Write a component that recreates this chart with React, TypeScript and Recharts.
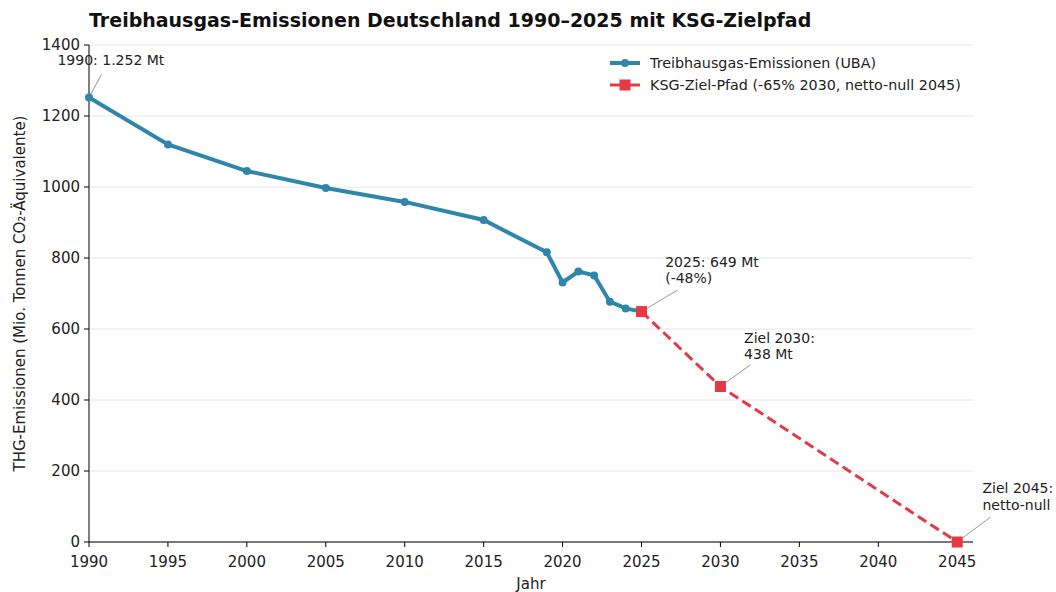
import { CartesianGrid, Legend, Line, LineChart, ReferenceDot, ReferenceLine, XAxis, YAxis } from "recharts"

// UBA Treibhausgas-Emissionen (Mio. t CO2-Äq.)
const years = [1990, 1995, 2000, 2005, 2010, 2015, 2019, 2020, 2021, 2022, 2023, 2024, 2025]
const emissions = [1252, 1120, 1045, 997, 958, 907, 816, 731, 762, 751, 677, 658, 649]

// KSG-Zielpfad
const targetYears = [2025, 2030, 2045]
const targetValues = [649, 438, 0]

const xTicks = [1990, 1995, 2000, 2005, 2010, 2015, 2020, 2025, 2030, 2035, 2040, 2045]
const yTicks = [0, 200, 400, 600, 800, 1000, 1200, 1400]

const annotations = [
  { x: 1990, y: 1252, lx: 1990.8, ly: 1318, tx: 1988, ty: 1343, lines: ["1990: 1.252 Mt"] },
  { x: 2025, y: 649, lx: 2027.3, ly: 710, tx: 2026.5, ty: 775, lines: ["2025: 649 Mt", "(-48%)"] },
  { x: 2030, y: 438, lx: 2031.9, ly: 499, tx: 2031.5, ty: 561, lines: ["Ziel 2030:", "438 Mt"] },
  { x: 2045, y: 0, lx: 2047.1, ly: 70, tx: 2046.6, ty: 138, lines: ["Ziel 2045:", "netto-null"] },
]

const emissionData = years.map((year, i) => ({ year, value: emissions[i] }))
const targetData = targetYears.map((year, i) => ({ year, value: targetValues[i] }))

const BLUE = "#2e86ab"
const RED = "#e63946"
const FONT = "'DejaVu Sans', sans-serif"

const SquareDot = (props: any) => {
  const { cx, cy, index } = props
  return <rect key={`sq-${index}`} x={cx - 5.5} y={cy - 5.5} width={11} height={11} fill={RED} />
}

const LegendContent = () => (
  <div style={{ fontFamily: FONT, fontSize: 14.3, color: "#222", lineHeight: "22px" }}>
    <div style={{ display: "flex", alignItems: "center" }}>
      <svg width={44} height={12}>
        <line x1={4} y1={6} x2={34} y2={6} stroke={BLUE} strokeWidth={4} />
        <circle cx={19} cy={6} r={4} fill={BLUE} />
      </svg>
      <span>Treibhausgas-Emissionen (UBA)</span>
    </div>
    <div style={{ display: "flex", alignItems: "center" }}>
      <svg width={44} height={12}>
        <line x1={4} y1={6} x2={34} y2={6} stroke={RED} strokeWidth={3} />
        <rect x={13.5} y={0.5} width={11} height={11} fill={RED} />
      </svg>
      <span>KSG-Ziel-Pfad (-65% 2030, netto-null 2045)</span>
    </div>
  </div>
)

export default function App() {
  return (
    <div style={{ position: "absolute", left: 0, top: 0, width: 1056, height: 592, background: "#fff", fontFamily: FONT }}>
      <div style={{ position: "absolute", left: 89, top: 9, fontSize: 19, fontWeight: "bold", color: "#111" }}>
        Treibhausgas-Emissionen Deutschland 1990–2025 mit KSG-Zielpfad
      </div>
      <LineChart width={1056} height={592} margin={{ top: 45, right: 83, bottom: 0, left: 0 }}>
        <CartesianGrid vertical={false} stroke="#e6e6e6" />
        <XAxis
          dataKey="year"
          type="number"
          domain={[1990, 2046]}
          ticks={xTicks}
          allowDuplicatedCategory={false}
          height={50}
          stroke="#000"
          tick={{ fill: "#222", fontSize: 15, fontFamily: FONT }}
          tickSize={5}
          tickMargin={9}
          label={{ value: "Jahr", position: "insideBottom", offset: 3, fill: "#222", fontSize: 15, fontFamily: FONT }}
        />
        <YAxis
          type="number"
          domain={[0, 1400]}
          ticks={yTicks}
          width={89}
          stroke="#000"
          tick={{ fill: "#222", fontSize: 15, fontFamily: FONT }}
          tickSize={5}
          tickMargin={4}
          label={{
            value: "THG-Emissionen (Mio. Tonnen CO₂-Äquivalente)",
            angle: -90,
            position: "insideLeft",
            offset: 20,
            style: { textAnchor: "middle" },
            fill: "#222",
            fontSize: 15,
            fontFamily: FONT,
          }}
        />
        <Legend
          layout="horizontal"
          verticalAlign="middle"
          align="center"
          content={<LegendContent />}
          wrapperStyle={{ position: "absolute", top: 52, left: 606, width: 390 }}
        />
        <Line
          data={emissionData}
          dataKey="value"
          name="Treibhausgas-Emissionen (UBA)"
          stroke={BLUE}
          strokeWidth={4}
          dot={{ r: 4, fill: BLUE, stroke: BLUE, strokeWidth: 0 }}
          activeDot={false}
          isAnimationActive={false}
        />
        <Line
          data={targetData}
          dataKey="value"
          name="KSG-Ziel-Pfad (-65% 2030, netto-null 2045)"
          stroke={RED}
          strokeWidth={3}
          strokeDasharray="10 5"
          dot={SquareDot}
          activeDot={false}
          isAnimationActive={false}
        />
        {annotations.map((a, i) => (
          <ReferenceLine
            key={`al-${i}`}
            segment={[{ x: a.x, y: a.y }, { x: a.lx, y: a.ly }]}
            stroke="#999"
            strokeWidth={1}
            ifOverflow="visible"
          />
        ))}
        {annotations.map((a, i) => (
          <ReferenceDot
            key={`at-${i}`}
            x={a.tx}
            y={a.ty}
            r={0}
            ifOverflow="visible"
            shape={(p: any) => (
              <text x={p.cx} y={p.cy} fill="#222" fontSize={14} fontFamily={FONT}>
                {a.lines.map((l, j) => (
                  <tspan key={j} x={p.cx} dy={j === 0 ? 0 : 16.5}>
                    {l}
                  </tspan>
                ))}
              </text>
            )}
          />
        ))}
      </LineChart>
    </div>
  )
}
